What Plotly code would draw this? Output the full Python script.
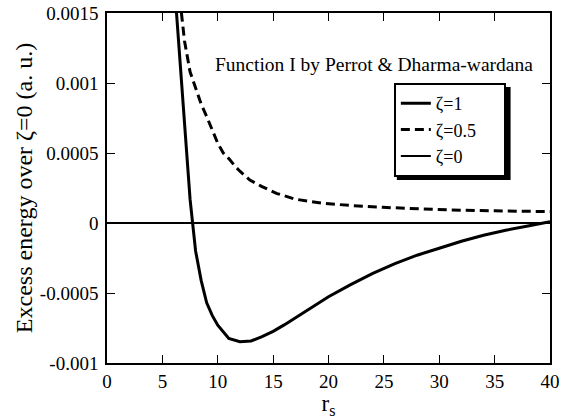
import plotly.graph_objects as go

# zeta = 1 (solid, thick)
x_z1 = [6.0, 6.5, 7.0, 7.5, 8.0, 8.5, 9.0, 9.5, 10.0, 10.5, 11.0, 12.0, 13.0, 14.0, 15.0,
        16.0, 17.0, 18.0, 19.0, 20.0, 22.0, 24.0, 26.0, 28.0, 30.0, 32.0, 34.0, 36.0, 38.0, 40.0]
y_z1 = [0.00180, 0.00124, 0.00070, 0.00017, -0.00020, -0.00041, -0.00057, -0.00066, -0.00073,
        -0.00078, -0.000825, -0.000848, -0.000843, -0.000812, -0.000774, -0.000728, -0.000679,
        -0.000629, -0.000578, -0.000527, -0.00044, -0.00036, -0.00029, -0.00023, -0.00018,
        -0.00013, -0.000088, -0.000052, -0.000022, 0.00001]

# zeta = 0.5 (dashed)
x_z05 = [6.3, 6.7, 7.0, 7.5, 8.0, 8.5, 9.0, 9.5, 10.0, 10.5, 11.0, 11.6, 12.0, 12.9, 14.0,
         15.3, 17.0, 19.5, 22.0, 24.9, 28.0, 31.0, 35.0, 40.0]
y_z05 = [0.00180, 0.00150, 0.00130, 0.00108, 0.00096, 0.00085, 0.00076, 0.00066, 0.00057,
         0.00050, 0.00046, 0.000402, 0.00037, 0.000307, 0.00026, 0.000212, 0.00017, 0.000141,
         0.000125, 0.000112, 0.000102, 0.000093, 0.000087, 0.000081]

# zeta = 0 (reference, thin)
x_z0 = [0, 40]
y_z0 = [0, 0]

series_names = ["ζ=1", "ζ=0.5" + "\u00a0" * 5, "ζ=0"]

x_ticks = [0, 5, 10, 15, 20, 25, 30, 35, 40]
y_ticks = [-0.001, -0.0005, 0, 0.0005, 0.001, 0.0015]
y_ticktext = ["-0.001", "-0.0005", "0", "0.0005", "0.001", "0.0015"]

FONT = "Liberation Serif, Times New Roman, serif"

W, H = 562, 419
L, R, T, B = 106.5, 11.5, 13, 56
PW = W - L - R
PH = H - T - B


def px_x(px):
    return (px - L) / PW


def px_y(py):
    return (H - B - py) / PH


fig = go.Figure()
fig.add_trace(go.Scatter(x=x_z1, y=y_z1, mode="lines", name=series_names[0],
                         line=dict(color="black", width=3)))
fig.add_trace(go.Scatter(x=x_z05, y=y_z05, mode="lines", name=series_names[1],
                         line=dict(color="black", width=3, dash="9px,5px")))
fig.add_trace(go.Scatter(x=x_z0, y=y_z0, mode="lines", name=series_names[2],
                         line=dict(color="black", width=2)))


def axis_common():
    return dict(
        showline=True, linecolor="black", linewidth=1.5, mirror="ticks",
        ticks="inside", ticklen=8, tickwidth=1, tickcolor="black",
        showgrid=False, zeroline=False, ticklabeloverflow="allow",
        tickfont=dict(family=FONT, size=19, color="black"),
    )


fig.update_xaxes(range=[0, 40], tickvals=x_ticks, **axis_common(),
                 title=dict(text="r<sub>s</sub>", font=dict(family=FONT, size=23, color="black"),
                            standoff=0))
fig.update_yaxes(range=[-0.001, 0.0015], tickvals=y_ticks, ticktext=y_ticktext, **axis_common(),
                 ticklabelstandoff=3,
                 title=dict(text="Excess energy over ζ=0 (a. u.)",
                            font=dict(family=FONT, size=24, color="black"), standoff=0))

fig.add_annotation(text="Function I by Perrot &amp; Dharma-wardana", xref="paper", yref="paper",
                   x=px_x(374), y=px_y(51.7), showarrow=False,
                   font=dict(family=FONT, size=19.5, color="black"))

# legend shadow
fig.add_shape(type="rect", xref="paper", yref="paper",
              x0=px_x(397), x1=px_x(511),
              y0=px_y(180), y1=px_y(87),
              fillcolor="black", line=dict(width=0), layer="above")

fig.update_layout(
    width=W, height=H,
    margin=dict(l=L, r=R, t=T, b=B, autoexpand=False),
    font=dict(family=FONT, color="black"),
    paper_bgcolor="white", plot_bgcolor="white",
    showlegend=True,
    legend=dict(x=px_x(394), y=px_y(83), xanchor="left", yanchor="top",
                bgcolor="white", bordercolor="black", borderwidth=2,
                font=dict(family=FONT, size=18, color="black"),
                tracegroupgap=0, itemwidth=30),
)

fig.write_html("out.html", post_script="document.body.style.margin='0px';",
               config={"displayModeBar": False})
